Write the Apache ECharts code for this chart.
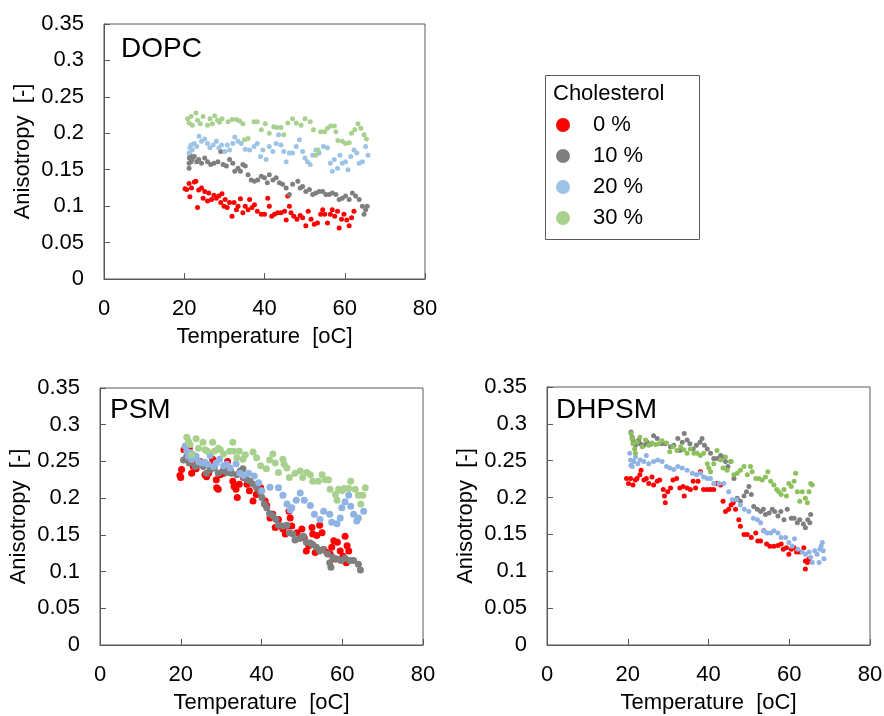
<!DOCTYPE html>
<html><head><meta charset="utf-8">
<script src="https://cdn.jsdelivr.net/npm/echarts@6/dist/echarts.min.js"></script>
<style>html,body{margin:0;padding:0;background:#fff}#c{width:884px;height:716px}</style>
</head><body><div id="c"></div>
<script>
const seriesNames = ['0 %', '10 %', '20 %', '30 %'];
const panelTitles = ['DOPC', 'PSM', 'DHPSM'];
const xTicks = [0, 20, 40, 60, 80];
const yTicks = [0, 0.05, 0.1, 0.15, 0.2, 0.25, 0.3, 0.35];

// DOPC
const dopc0 = [[20.2,0.124],[20.6,0.123],[21.2,0.131],[21.4,0.113],[21.8,0.125],[22.5,0.133],[22.9,0.134],[23.3,0.098],[23.6,0.122],[24.3,0.125],[24.7,0.111],[25.1,0.120],[25.8,0.107],[26.1,0.118],[26.8,0.109],[27.4,0.115],[28.0,0.111],[28.6,0.114],[29.1,0.105],[29.4,0.117],[29.9,0.100],[30.2,0.109],[30.7,0.098],[31.3,0.105],[31.9,0.086],[32.4,0.105],[33.0,0.095],[33.4,0.100],[34.0,0.110],[34.6,0.091],[35.2,0.100],[35.9,0.095],[36.3,0.109],[36.9,0.098],[37.5,0.102],[38.2,0.093],[39.2,0.089],[40.0,0.089],[40.8,0.111],[41.2,0.100],[41.8,0.086],[42.5,0.089],[43.3,0.091],[44.1,0.091],[45.0,0.093],[45.4,0.081],[45.8,0.114],[46.2,0.100],[46.6,0.091],[47.3,0.086],[48.1,0.082],[48.9,0.087],[49.5,0.084],[50.3,0.073],[50.9,0.093],[51.6,0.082],[52.4,0.075],[53.2,0.077],[54.0,0.089],[54.5,0.095],[55.0,0.089],[55.7,0.077],[56.4,0.089],[56.9,0.095],[57.5,0.086],[58.2,0.093],[58.6,0.070],[59.2,0.082],[59.8,0.089],[60.5,0.081],[61.1,0.073],[61.7,0.084],[62.3,0.093]];
const dopc10 = [[21.2,0.152],[21.2,0.159],[21.3,0.166],[21.5,0.170],[21.7,0.161],[22.0,0.165],[22.5,0.168],[23.1,0.161],[23.6,0.164],[24.3,0.159],[25.1,0.166],[25.8,0.161],[26.6,0.157],[27.4,0.159],[28.4,0.161],[29.1,0.175],[29.7,0.157],[30.5,0.155],[31.3,0.164],[32.1,0.159],[32.6,0.148],[33.4,0.152],[34.0,0.148],[34.6,0.157],[35.2,0.155],[35.9,0.143],[36.7,0.136],[37.5,0.134],[38.3,0.136],[39.2,0.141],[40.0,0.139],[40.7,0.132],[41.2,0.143],[42.1,0.136],[42.9,0.139],[43.7,0.132],[44.5,0.130],[45.4,0.125],[46.2,0.116],[47.0,0.130],[48.3,0.134],[48.9,0.125],[49.5,0.127],[50.3,0.120],[51.2,0.123],[52.0,0.116],[52.8,0.118],[53.6,0.120],[54.5,0.120],[55.3,0.116],[56.1,0.116],[56.9,0.118],[57.8,0.116],[58.6,0.109],[59.4,0.111],[60.2,0.114],[61.1,0.109],[61.9,0.118],[62.7,0.114],[63.6,0.109],[64.4,0.100],[64.8,0.089],[65.2,0.095],[65.6,0.100]];
const dopc20 = [[21.2,0.173],[21.4,0.180],[21.7,0.184],[22.0,0.177],[22.5,0.186],[23.1,0.182],[23.7,0.196],[24.3,0.189],[25.1,0.192],[25.8,0.186],[26.4,0.180],[27.2,0.184],[28.0,0.189],[28.6,0.180],[29.3,0.184],[30.1,0.175],[30.7,0.184],[31.3,0.177],[32.1,0.186],[32.6,0.195],[33.4,0.189],[34.2,0.186],[35.2,0.178],[36.3,0.177],[37.4,0.182],[38.2,0.186],[39.0,0.168],[39.6,0.177],[40.4,0.164],[41.2,0.182],[42.1,0.175],[42.9,0.186],[43.5,0.198],[44.1,0.184],[44.8,0.175],[45.4,0.161],[46.2,0.173],[47.0,0.173],[47.9,0.182],[48.7,0.191],[49.5,0.175],[50.1,0.166],[50.7,0.161],[51.4,0.157],[52.0,0.170],[52.8,0.177],[53.6,0.173],[54.7,0.182],[55.7,0.180],[56.4,0.159],[56.9,0.148],[57.4,0.164],[58.2,0.152],[58.8,0.170],[59.4,0.159],[60.2,0.161],[60.8,0.150],[61.5,0.168],[62.3,0.177],[63.0,0.173],[63.6,0.159],[64.4,0.161],[65.2,0.182],[65.8,0.170]];
const dopc30 = [[20.8,0.220],[21.2,0.214],[21.7,0.223],[22.0,0.211],[22.9,0.228],[23.3,0.218],[24.0,0.213],[24.7,0.223],[25.8,0.211],[26.4,0.220],[27.0,0.213],[27.6,0.224],[28.3,0.218],[28.8,0.215],[29.4,0.220],[30.9,0.216],[31.9,0.219],[33.0,0.219],[33.8,0.217],[34.6,0.213],[35.0,0.191],[35.9,0.193],[37.4,0.216],[38.2,0.216],[39.2,0.205],[40.2,0.213],[41.2,0.200],[42.3,0.209],[43.1,0.208],[44.1,0.208],[44.8,0.198],[45.8,0.214],[47.0,0.220],[47.9,0.214],[49.1,0.211],[50.1,0.220],[51.4,0.216],[52.2,0.205],[52.8,0.170],[53.4,0.177],[54.0,0.202],[55.0,0.202],[55.7,0.207],[56.5,0.210],[57.4,0.210],[57.8,0.202],[58.3,0.190],[59.4,0.189],[60.2,0.186],[61.1,0.187],[61.7,0.200],[62.5,0.205],[63.3,0.213],[64.0,0.207],[64.8,0.198],[65.4,0.192]];

// PSM
const psm0 = [[19.8,0.231],[20.2,0.239],[20.0,0.228],[20.8,0.266],[21.5,0.253],[22.1,0.268],[22.7,0.234],[23.1,0.243],[23.8,0.240],[24.1,0.248],[24.8,0.250],[26.0,0.232],[26.4,0.229],[26.9,0.234],[27.4,0.241],[27.9,0.253],[28.3,0.246],[28.8,0.225],[28.9,0.214],[29.3,0.212],[29.8,0.232],[30.6,0.234],[31.0,0.243],[31.6,0.250],[32.2,0.239],[32.9,0.223],[33.2,0.216],[33.7,0.212],[34.0,0.201],[34.5,0.219],[35.5,0.228],[36.4,0.219],[37.0,0.210],[37.9,0.196],[38.7,0.205],[39.3,0.216],[39.8,0.214],[40.9,0.196],[41.3,0.190],[42.1,0.173],[42.8,0.178],[43.4,0.160],[44.2,0.171],[44.6,0.162],[45.3,0.158],[45.9,0.151],[46.4,0.162],[46.8,0.182],[47.1,0.173],[47.5,0.162],[48.8,0.153],[50.0,0.158],[50.6,0.146],[51.1,0.128],[51.7,0.135],[52.5,0.160],[52.7,0.151],[53.3,0.126],[53.7,0.149],[54.4,0.163],[55.0,0.153],[55.4,0.130],[56.2,0.126],[57.0,0.124],[57.4,0.133],[57.9,0.142],[58.3,0.117],[58.8,0.140],[59.5,0.128],[60.2,0.121],[60.7,0.148],[61.2,0.135],[61.6,0.128],[61.0,0.112]];
const psm10 = [[20.7,0.252],[21.5,0.257],[22.1,0.248],[22.7,0.253],[23.6,0.243],[24.4,0.246],[25.6,0.243],[26.4,0.234],[27.3,0.239],[28.3,0.241],[29.3,0.234],[30.4,0.237],[31.4,0.235],[32.6,0.234],[33.9,0.232],[34.7,0.237],[35.4,0.240],[35.7,0.228],[36.4,0.225],[37.2,0.223],[38.0,0.219],[38.8,0.214],[39.7,0.208],[40.1,0.201],[40.7,0.192],[41.3,0.187],[42.0,0.179],[42.8,0.176],[43.6,0.171],[44.2,0.163],[45.3,0.162],[46.3,0.163],[46.9,0.153],[47.8,0.151],[48.3,0.143],[49.4,0.145],[50.4,0.148],[51.1,0.140],[52.1,0.139],[52.7,0.137],[53.6,0.133],[54.4,0.128],[55.2,0.130],[56.4,0.124],[56.9,0.112],[57.2,0.106],[57.7,0.119],[58.7,0.117],[59.7,0.115],[60.7,0.118],[61.8,0.115],[62.8,0.115],[64.0,0.110],[64.5,0.102]];
const psm20 = [[21.1,0.271],[21.5,0.264],[21.9,0.257],[22.3,0.262],[22.7,0.253],[23.1,0.259],[23.8,0.257],[24.4,0.250],[25.2,0.248],[26.0,0.249],[26.6,0.246],[27.3,0.258],[28.1,0.243],[28.8,0.248],[29.6,0.253],[30.6,0.244],[31.4,0.246],[32.2,0.241],[33.7,0.247],[34.7,0.234],[35.5,0.231],[36.8,0.234],[38.2,0.230],[39.3,0.221],[40.1,0.210],[42.1,0.215],[44.2,0.214],[45.3,0.204],[46.3,0.192],[47.1,0.184],[47.5,0.187],[48.6,0.197],[49.6,0.207],[50.6,0.197],[52.1,0.190],[53.1,0.178],[54.5,0.171],[55.4,0.182],[56.9,0.178],[57.4,0.167],[58.7,0.165],[59.5,0.173],[59.9,0.187],[60.7,0.195],[61.6,0.204],[62.1,0.189],[62.8,0.178],[63.6,0.169],[64.0,0.173],[65.3,0.182]];
const psm30 = [[21.5,0.283],[21.9,0.277],[22.3,0.273],[22.7,0.259],[23.8,0.281],[24.4,0.268],[25.5,0.276],[26.0,0.266],[26.6,0.264],[27.9,0.276],[28.3,0.264],[29.3,0.268],[29.8,0.266],[30.6,0.260],[32.1,0.264],[32.9,0.276],[33.1,0.264],[33.9,0.255],[34.5,0.264],[35.4,0.253],[36.0,0.259],[37.9,0.263],[38.8,0.255],[39.8,0.244],[41.2,0.240],[42.0,0.252],[42.8,0.260],[43.4,0.248],[44.2,0.235],[45.3,0.253],[45.6,0.246],[46.3,0.241],[46.9,0.228],[48.3,0.234],[49.6,0.237],[50.2,0.228],[51.2,0.235],[52.1,0.232],[52.7,0.223],[54.1,0.223],[55.0,0.232],[55.8,0.225],[56.6,0.225],[57.0,0.212],[58.3,0.205],[58.7,0.197],[59.1,0.212],[59.9,0.210],[60.5,0.213],[61.6,0.213],[62.1,0.223],[63.2,0.212],[64.0,0.204],[64.6,0.192],[65.1,0.204],[65.7,0.214]];

// DHPSM
const dhpsm0 = [[19.7,0.226],[20.2,0.219],[20.7,0.226],[21.3,0.217],[21.9,0.224],[22.3,0.226],[23.0,0.231],[23.3,0.237],[24.0,0.224],[24.6,0.226],[25.2,0.219],[26.0,0.228],[26.4,0.217],[27.3,0.222],[27.9,0.224],[28.8,0.211],[29.1,0.202],[29.3,0.193],[29.9,0.208],[30.6,0.213],[31.2,0.224],[32.1,0.226],[32.9,0.213],[33.7,0.215],[34.0,0.202],[34.7,0.213],[35.5,0.211],[36.2,0.222],[36.8,0.213],[37.4,0.222],[38.0,0.235],[38.8,0.211],[39.7,0.211],[40.5,0.211],[41.3,0.211],[42.1,0.219],[43.0,0.217],[43.6,0.195],[44.2,0.181],[45.0,0.184],[45.6,0.190],[46.1,0.193],[46.7,0.184],[47.5,0.170],[47.9,0.161],[48.8,0.150],[49.6,0.150],[50.6,0.146],[51.7,0.152],[52.2,0.141],[52.9,0.141],[53.7,0.155],[54.4,0.137],[55.2,0.134],[56.2,0.134],[57.2,0.135],[58.0,0.137],[58.5,0.130],[59.3,0.132],[59.9,0.123],[60.5,0.130],[61.2,0.132],[61.8,0.126],[62.6,0.126],[63.6,0.132],[64.0,0.114],[64.5,0.112],[64.0,0.103],[64.9,0.117]];
const dhpsm10 = [[20.8,0.289],[21.1,0.282],[21.3,0.278],[21.9,0.271],[22.7,0.278],[23.1,0.273],[24.0,0.271],[24.8,0.275],[25.6,0.272],[26.4,0.284],[27.3,0.280],[28.3,0.273],[29.3,0.273],[30.6,0.269],[31.4,0.271],[32.4,0.280],[32.9,0.264],[33.5,0.275],[34.0,0.287],[34.7,0.278],[35.4,0.273],[36.2,0.266],[37.0,0.271],[37.9,0.275],[38.4,0.280],[39.0,0.271],[39.7,0.266],[40.5,0.260],[41.3,0.253],[42.1,0.253],[43.0,0.257],[43.6,0.255],[44.2,0.249],[44.8,0.242],[45.5,0.249],[46.3,0.226],[47.1,0.199],[47.9,0.195],[48.8,0.202],[49.4,0.208],[50.0,0.215],[50.6,0.204],[51.2,0.188],[52.1,0.184],[52.9,0.181],[53.6,0.184],[54.1,0.177],[55.0,0.179],[55.8,0.184],[56.4,0.181],[57.2,0.175],[57.9,0.181],[58.7,0.170],[59.5,0.184],[60.5,0.172],[61.2,0.172],[62.0,0.166],[62.6,0.170],[63.5,0.164],[64.0,0.159],[64.6,0.170],[65.1,0.166],[65.3,0.177]];
const dhpsm20 = [[20.5,0.260],[20.7,0.251],[20.8,0.244],[21.1,0.242],[21.5,0.249],[21.9,0.255],[22.5,0.246],[23.1,0.251],[24.0,0.249],[24.6,0.257],[25.2,0.246],[26.4,0.249],[27.4,0.251],[28.5,0.249],[29.6,0.242],[30.4,0.240],[31.4,0.238],[32.4,0.242],[33.5,0.240],[34.7,0.237],[36.0,0.233],[37.0,0.231],[38.0,0.233],[38.8,0.228],[39.7,0.226],[40.5,0.226],[41.3,0.219],[42.6,0.219],[43.8,0.219],[45.0,0.208],[45.9,0.197],[46.9,0.197],[47.9,0.190],[48.9,0.184],[50.0,0.181],[51.1,0.172],[52.1,0.170],[52.9,0.166],[53.7,0.155],[54.5,0.152],[55.4,0.152],[56.2,0.155],[57.2,0.152],[58.0,0.146],[59.1,0.146],[59.9,0.139],[60.7,0.134],[61.3,0.144],[62.1,0.130],[63.2,0.126],[64.0,0.123],[64.9,0.126],[65.3,0.119],[65.7,0.112],[66.3,0.128],[66.9,0.123],[67.6,0.130],[67.9,0.134],[68.2,0.139],[68.4,0.128],[68.6,0.117],[67.4,0.112]];
const dhpsm30 = [[20.8,0.287],[21.1,0.280],[21.3,0.273],[21.7,0.266],[21.9,0.260],[22.3,0.275],[23.0,0.282],[23.6,0.269],[24.4,0.278],[25.2,0.271],[26.0,0.274],[26.9,0.272],[27.7,0.273],[28.5,0.277],[29.6,0.274],[30.4,0.262],[31.2,0.269],[32.2,0.264],[33.1,0.269],[33.9,0.265],[34.7,0.260],[35.5,0.266],[36.4,0.260],[37.2,0.260],[38.0,0.257],[38.8,0.260],[39.7,0.246],[40.1,0.240],[40.5,0.235],[41.3,0.246],[42.1,0.264],[43.0,0.251],[43.6,0.240],[44.2,0.255],[44.6,0.237],[45.6,0.249],[46.3,0.231],[47.1,0.233],[47.9,0.237],[48.8,0.242],[49.6,0.231],[50.4,0.242],[50.8,0.235],[51.7,0.226],[52.5,0.226],[53.3,0.224],[54.1,0.228],[54.7,0.235],[55.4,0.222],[56.2,0.217],[56.9,0.211],[57.4,0.208],[58.0,0.204],[58.7,0.211],[59.3,0.202],[59.9,0.219],[60.5,0.215],[61.2,0.222],[61.6,0.233],[62.0,0.208],[62.6,0.195],[63.2,0.208],[64.0,0.199],[64.5,0.193],[64.9,0.208],[65.3,0.219],[65.7,0.217]];

const panels = [
  {data: [dopc0, dopc10, dopc20, dopc30], colors: ['#FF0000', '#7F7F7F', '#9DC3E6', '#A9D18E'], size: 5},
  {data: [psm0, psm10, psm20, psm30], colors: ['#FF0000', '#7F7F7F', '#8FB4E3', '#A9D18E'], size: 7},
  {data: [dhpsm0, dhpsm10, dhpsm20, dhpsm30], colors: ['#FF0000', '#7F7F7F', '#8FB4E3', '#8CC05A'], size: 5}
];

const grids = [
  {left: 104, top: 24, width: 321, height: 255},
  {left: 100, top: 388, width: 323, height: 257},
  {left: 547, top: 387, width: 323, height: 258}
];

const FONT = 'Liberation Sans, Arial, sans-serif';
const axisColor = '#595959';

const option = {
  animation: false,
  backgroundColor: '#fff',
  textStyle: {fontFamily: FONT},
  grid: grids.map(g => Object.assign({show: true, borderColor: axisColor, borderWidth: 1, containLabel: false, outerBoundsMode: 'none'}, g)),
  xAxis: grids.map((g, i) => ({
    gridIndex: i, type: 'value', min: xTicks[0], max: xTicks[xTicks.length - 1], interval: 20,
    name: 'Temperature  [oC]', nameLocation: 'middle', nameGap: 47,
    nameTextStyle: {fontSize: 22, color: '#000', fontFamily: FONT},
    axisLine: {show: true, onZero: false, lineStyle: {color: axisColor, width: 1}},
    axisTick: {show: true, inside: true, length: 6, lineStyle: {color: axisColor}},
    axisLabel: {fontSize: 22, color: '#000', margin: 19, fontFamily: FONT},
    splitLine: {show: false}
  })),
  yAxis: grids.map((g, i) => ({
    gridIndex: i, type: 'value', min: yTicks[0], max: yTicks[yTicks.length - 1], interval: 0.05,
    name: 'Anisotropy  [-]', nameLocation: 'middle', nameGap: 70,
    nameTextStyle: {fontSize: 22, color: '#000', fontFamily: FONT},
    axisLine: {show: true, onZero: false, lineStyle: {color: axisColor, width: 1}},
    axisTick: {show: true, inside: true, length: 6, lineStyle: {color: axisColor}},
    axisLabel: {fontSize: 22, color: '#000', margin: 20, fontFamily: FONT,
      formatter: v => String(Math.round(v * 100) / 100)},
    splitLine: {show: false}
  })),
  legend: {
    data: seriesNames, orient: 'vertical', left: 556, top: 113, padding: 0,
    icon: 'circle', itemWidth: 50, itemHeight: 14, itemGap: 7,
    textStyle: {fontSize: 22, color: '#000', fontFamily: FONT, lineHeight: 24},
    selectedMode: false
  },
  graphic: [
    {type: 'rect', left: 543, top: 73, shape: {width: 154, height: 164}, style: {fill: 'none', stroke: axisColor, lineWidth: 1}},
    {type: 'text', left: 553, top: 83, style: {text: 'Cholesterol', font: '22px ' + FONT, fill: '#000'}},
    {type: 'text', left: 121, top: 35, style: {text: panelTitles[0], font: '28px ' + FONT, fill: '#000'}},
    {type: 'text', left: 110, top: 396, style: {text: panelTitles[1], font: '28px ' + FONT, fill: '#000'}},
    {type: 'text', left: 556, top: 396, style: {text: panelTitles[2], font: '28px ' + FONT, fill: '#000'}}
  ],
  series: []
};

panels.forEach((p, i) => {
  p.data.forEach((d, k) => {
    option.series.push({
      type: 'scatter', name: seriesNames[k], xAxisIndex: i, yAxisIndex: i,
      data: d, symbol: 'circle', symbolSize: p.size,
      itemStyle: {color: p.colors[k], opacity: 1}
    });
  });
});

const chart = echarts.init(document.getElementById('c'), null, {renderer: 'canvas'});
chart.setOption(option);
</script>
</body></html>
